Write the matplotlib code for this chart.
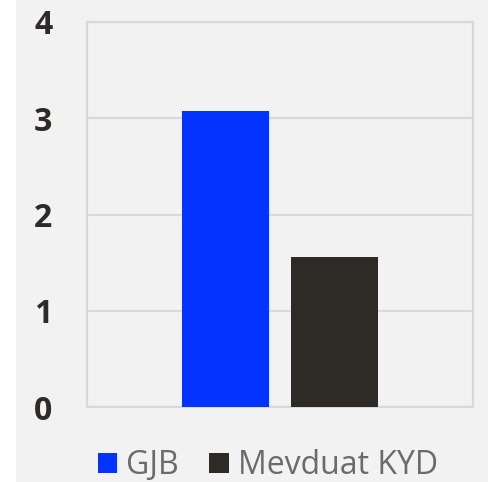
import matplotlib

matplotlib.use("Agg")
import matplotlib.pyplot as plt
from matplotlib.patches import Rectangle, Patch

plt.rcParams["font.family"] = ["Open Sans", "DejaVu Sans"]

series = ["GJB", "Mevduat KYD"]
values = [3.075, 1.555]
colors = ["#0433ff", "#2e2b26"]
y_ticks = [0, 1, 2, 3, 4]

W, H = 488, 482
fig = plt.figure(figsize=(W / 100, H / 100), dpi=100, facecolor="#f2f2f2")
# white strip on the left edge
fig.patches.append(
    Rectangle((0, 0), 16 / W, 1, transform=fig.transFigure,
              facecolor="white", edgecolor="none", zorder=-1)
)

ax = fig.add_axes([87 / W, 1 - 407 / H, 386 / W, 385 / H])
ax.set_facecolor("#f2f2f2")

offsets = [-0.141, 0.141]
for off, val, col, name in zip(offsets, values, colors, series):
    ax.bar(off, val, width=0.225, color=col, zorder=3, label=name)

ax.set_xlim(-0.5, 0.5)
ax.set_ylim(0, 4)
ax.set_xticks([])
ax.set_yticks(y_ticks)
ax.set_yticklabels([str(t) for t in y_ticks], fontsize=23, fontweight="bold",
                   color="#2d2b28")
ax.tick_params(axis="y", length=0, pad=25)
ax.grid(axis="y", color="#d9d9d9", linewidth=1.6, zorder=0)
for s in ax.spines.values():
    s.set_color("#d9d9d9")
    s.set_linewidth(1.6)

handles = [Patch(facecolor=c, edgecolor="none", label=n) for c, n in zip(colors, series)]
leg = fig.legend(handles=handles, loc="center", bbox_to_anchor=(268 / W, 1 - 466 / H),
                 ncol=2, frameon=False, fontsize=23, handlelength=0.6,
                 handleheight=0.6, handletextpad=0.3, columnspacing=0.95)
for t in leg.get_texts():
    t.set_color("#6b6b6b")

fig.savefig("out.png", dpi=100, facecolor=fig.get_facecolor())
